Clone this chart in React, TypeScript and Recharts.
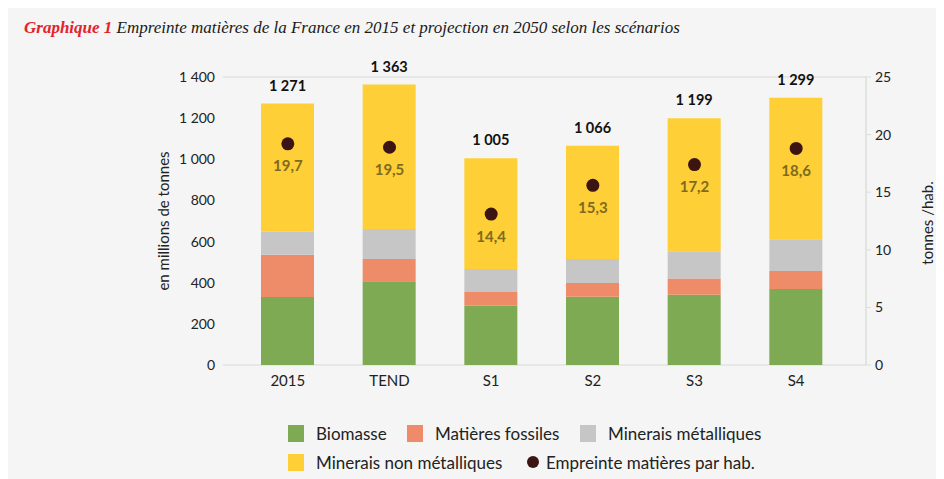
import React from "react";
import {
  ComposedChart,
  Bar,
  Line,
  XAxis,
  YAxis,
  CartesianGrid,
  LabelList,
} from "recharts";

const categories = ["2015", "TEND", "S1", "S2", "S3", "S4"];
const biomasse = [330, 407, 288, 332, 342, 369];
const fossiles = [206, 108, 67, 67, 78, 88];
const metalliques = [112, 146, 112, 116, 133, 154];
const nonMetalliques = [623, 702, 538, 551, 646, 688];
const totals = [1271, 1363, 1005, 1066, 1199, 1299];
// dot positions as drawn, and the printed values
const parHab = [19.2, 18.9, 13.1, 15.6, 17.4, 18.8];
const parHabLabels = ["19,7", "19,5", "14,4", "15,3", "17,2", "18,6"];

const leftTicks = [0, 200, 400, 600, 800, 1000, 1200, 1400];
const rightTicks = [0, 5, 10, 15, 20, 25];

const COLORS = {
  biomasse: "#7eaa53",
  fossiles: "#ee8c69",
  metalliques: "#c6c6c6",
  nonMetalliques: "#fecf36",
  dot: "#3c1411",
  dotLabel: "#7f6a1f",
};

const FONT = "Lato, 'Open Sans', sans-serif";

const fmt = (v: number) => String(v).replace(/\B(?=(\d{3})+(?!\d))/g, " ");

const data = categories.map((c, i) => ({
  name: c,
  biomasse: biomasse[i],
  fossiles: fossiles[i],
  metalliques: metalliques[i],
  nonMetalliques: nonMetalliques[i],
  totalLabel: fmt(totals[i]),
  parHab: parHab[i],
  parHabLabel: parHabLabels[i],
}));

const Square = ({ color }: { color: string }) => (
  <span
    style={{
      display: "inline-block",
      width: 16,
      height: 17,
      background: color,
      marginRight: 12,
    }}
  />
);

const legendText: React.CSSProperties = {
  fontSize: 17,
  color: "#222",
};

const LegendItem = ({
  x,
  y,
  color,
  label,
}: {
  x: number;
  y: number;
  color: string;
  label: string;
}) => (
  <div
    style={{
      position: "absolute",
      left: x,
      top: y - 9,
      height: 18,
      display: "flex",
      alignItems: "center",
      whiteSpace: "nowrap",
      ...legendText,
    }}
  >
    <Square color={color} />
    {label}
  </div>
);

const AxisTitle = ({ cx, cy, text }: { cx: number; cy: number; text: string }) => (
  <div
    style={{
      position: "absolute",
      left: cx - 100,
      top: cy - 10,
      width: 200,
      height: 20,
      lineHeight: "20px",
      textAlign: "center",
      transform: "rotate(-90deg)",
      fontSize: 15,
      color: "#222",
      whiteSpace: "nowrap",
    }}
  >
    {text}
  </div>
);

export default function App() {
  return (
    <div
      style={{
        position: "relative",
        width: 936,
        height: 471,
        background: "#f4f5f4",
        fontFamily: FONT,
        overflow: "hidden",
      }}
    >
      <div
        style={{
          position: "absolute",
          left: 16,
          top: 10,
          fontFamily: "'Liberation Serif', serif",
          fontStyle: "italic",
          fontSize: 17,
          color: "#1a1a1a",
          whiteSpace: "nowrap",
        }}
      >
        <span style={{ color: "#e3232c", fontWeight: "bold" }}>Graphique 1</span>{" "}
        Empreinte matières de la France en 2015 et projection en 2050 selon les
        scénarios
      </div>

      <div style={{ position: "absolute", left: 0, top: 0 }}>
        <ComposedChart
          width={936}
          height={400}
          data={data}
          margin={{ top: 69, right: 0, bottom: 13, left: 0 }}
          barSize={53}
        >
          <CartesianGrid
            vertical={false}
            stroke="#e1e3e2"
            strokeWidth={1.5}
          />
          <XAxis
            dataKey="name"
            axisLine={false}
            tickLine={false}
            tickSize={0}
            tickMargin={10}
            padding={{ left: 14, right: 19 }}
            tick={{ fill: "#222", fontSize: 15, fontFamily: FONT }}
          />
          <YAxis
            yAxisId="left"
            width={215}
            domain={[0, 1400]}
            ticks={leftTicks}
            axisLine={false}
            tickLine={false}
            tickSize={0}
            tickMargin={8}
            tickFormatter={fmt}
            tick={{ fill: "#222", fontSize: 14, fontFamily: FONT }}
          />
          <YAxis
            yAxisId="right"
            orientation="right"
            width={78}
            domain={[0, 25]}
            ticks={rightTicks}
            axisLine={{ stroke: "#dcdedd", strokeWidth: 1.5 }}
            tickLine={{ stroke: "#dcdedd" }}
            tickSize={5}
            tickMargin={4}
            tick={{ fill: "#222", fontSize: 14, fontFamily: FONT }}
          />
          <Bar
            yAxisId="left"
            dataKey="biomasse"
            stackId="a"
            fill={COLORS.biomasse}
            isAnimationActive={false}
          />
          <Bar
            yAxisId="left"
            dataKey="fossiles"
            stackId="a"
            fill={COLORS.fossiles}
            isAnimationActive={false}
          />
          <Bar
            yAxisId="left"
            dataKey="metalliques"
            stackId="a"
            fill={COLORS.metalliques}
            isAnimationActive={false}
          />
          <Bar
            yAxisId="left"
            dataKey="nonMetalliques"
            stackId="a"
            fill={COLORS.nonMetalliques}
            isAnimationActive={false}
          >
            <LabelList
              dataKey="totalLabel"
              position="top"
              offset={13}
              fill="#111"
              fontSize={14.5}
              fontWeight="bold"
              fontFamily={FONT}
            />
          </Bar>
          <Line
            yAxisId="right"
            dataKey="parHab"
            stroke="none"
            dot={{ r: 6.5, fill: COLORS.dot, stroke: "none" }}
            activeDot={false}
            isAnimationActive={false}
          >
            <LabelList
              dataKey="parHabLabel"
              position="bottom"
              offset={17}
              fill={COLORS.dotLabel}
              fontSize={15}
              fontWeight="bold"
              fontFamily={FONT}
            />
          </Line>
        </ComposedChart>
      </div>

      <AxisTitle cx={155} cy={213} text="en millions de tonnes" />
      <AxisTitle cx={919} cy={215} text="tonnes /hab." />

      <LegendItem x={280} y={425} color={COLORS.biomasse} label="Biomasse" />
      <LegendItem
        x={399}
        y={425}
        color={COLORS.fossiles}
        label="Matières fossiles"
      />
      <LegendItem
        x={572}
        y={425}
        color={COLORS.metalliques}
        label="Minerais métalliques"
      />
      <LegendItem
        x={280}
        y={454}
        color={COLORS.nonMetalliques}
        label="Minerais non métalliques"
      />
      <div
        style={{
          position: "absolute",
          left: 519,
          top: 445,
          height: 18,
          display: "flex",
          alignItems: "center",
          whiteSpace: "nowrap",
          ...legendText,
        }}
      >
        <span
          style={{
            display: "inline-block",
            width: 12,
            height: 12,
            borderRadius: "50%",
            background: COLORS.dot,
            marginRight: 7,
          }}
        />
        Empreinte matières par hab.
      </div>
    </div>
  );
}
